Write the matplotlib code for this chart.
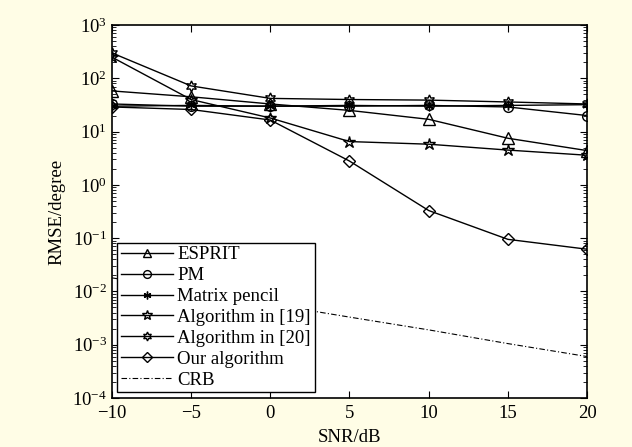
import matplotlib
matplotlib.use("Agg")
import matplotlib.pyplot as plt
import numpy as np

plt.rcParams['font.family'] = ['Liberation Serif', 'DejaVu Serif']
plt.rcParams['mathtext.fontset'] = 'stix'

snr = [-10, -5, 0, 5, 10, 15, 20]
esprit = [58, 45, 33, 25, 17, 7.5, 4.4]
pm = [33, 30, 30, 30, 31, 29, 20]
mpencil = [30, 31, 30, 31, 30, 31, 32]
alg19 = [250, 40, 18, 6.5, 5.8, 4.5, 3.6]
alg20 = [300, 72, 42, 40, 39, 36, 33]
ours = [29, 26, 16.5, 2.8, 0.33, 0.095, 0.062]
crb = [0.018, 0.0103, 0.0058, 0.0033, 0.0019, 0.00105, 0.0006]

bg = '#fffde6'
fs = 13.5
fig = plt.figure(figsize=(6.32, 4.47), dpi=100, facecolor=bg)
ax = fig.add_axes([0.177, 0.1096, 0.752, 0.8344])

kw = dict(color='black', lw=1.0, mfc='none', mec='black', mew=1.0)
ax.plot(snr, esprit, marker='^', ms=8, label='ESPRIT', **kw)
ax.plot(snr, pm, marker='o', ms=7, label='PM', **kw)
ax.plot(snr, mpencil, marker=(6, 2, 0), ms=7, label='Matrix pencil', **kw)
ax.plot(snr, alg19, marker='*', ms=9, label='Algorithm in [19]', **kw)
ax.plot(snr, alg20, marker=(6, 1, 0), ms=8, label='Algorithm in [20]', **kw)
ax.plot(snr, ours, marker='D', ms=6, label='Our algorithm', **kw)
ax.plot(snr, crb, color='black', lw=0.8, ls=(0, (5, 2, 1, 2)), label='CRB')

ax.set_yscale('log')
ax.set_xlim(-10, 20)
ax.set_ylim(1e-4, 1e3)
ax.set_xticks([-10, -5, 0, 5, 10, 15, 20])
ax.set_yticks([10.0**k for k in range(-4, 4)])
ax.tick_params(which='both', direction='in', top=True, right=True, labelsize=fs)
ax.tick_params(which='major', length=5, width=0.8)
ax.tick_params(axis='x', pad=5)
ax.tick_params(which='minor', length=3, width=0.6)
ax.xaxis.set_minor_locator(matplotlib.ticker.NullLocator())
for s in ax.spines.values():
    s.set_linewidth(1.2)

ax.set_xlabel('SNR/dB', fontsize=fs, labelpad=5)
ax.set_ylabel('RMSE/degree', fontsize=fs, labelpad=5)

leg = ax.legend(loc='lower left', fontsize=fs, handlelength=2.75, handletextpad=0.25,
                labelspacing=0.2, borderpad=0.2, borderaxespad=0.3, markerscale=0.8,
                fancybox=False, framealpha=1, edgecolor='black')
leg.get_frame().set_linewidth(1.0)

fig.savefig('out.png', dpi=100, facecolor=bg)
